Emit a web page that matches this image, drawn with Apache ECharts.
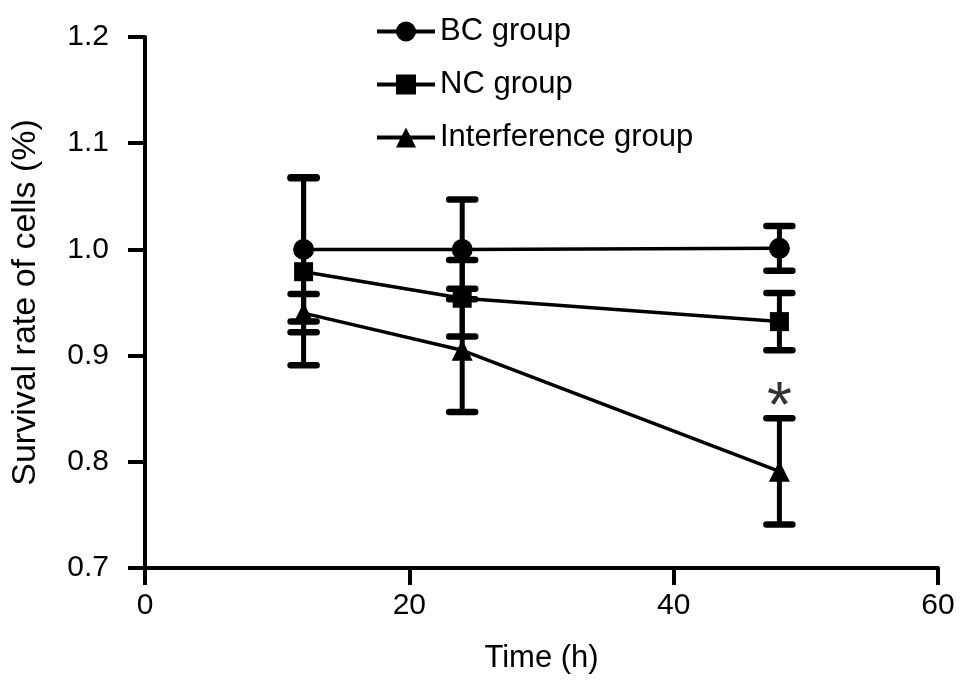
<!DOCTYPE html>
<html><head><meta charset="utf-8">
<script src="https://cdn.jsdelivr.net/npm/echarts@6/dist/echarts.min.js"></script>
<style>html,body{margin:0;padding:0;background:#fff}#c{width:969px;height:689px}</style>
</head><body><div id="c"></div>
<script>
var times = [12, 24, 48];
var bcMean = [1.000, 1.000, 1.001];
var bcErr = [0.068, 0.047, 0.021];
var ncMean = [0.979, 0.954, 0.932];
var ncErr = [0.088, 0.036, 0.027];
var intMean = [0.940, 0.905, 0.791];
var intErr = [0.018, 0.058, 0.050];
var seriesNames = ['BC group', 'NC group', 'Interference group'];
var xTicks = [0, 20, 40, 60];
var yTicks = [0.7, 0.8, 0.9, 1.0, 1.1, 1.2];
var sigPoint = [48, 0.849];

var FONT = 'Liberation Sans, Arial, sans-serif';
function pts(m){ return times.map(function(t,i){ return [t, m[i]]; }); }
function errData(m,e){ return times.map(function(t,i){ return [t, m[i]-e[i], m[i]+e[i]]; }); }
function errSeries(m,e){
  return {
    type:'custom', silent:true, z:3,
    data: errData(m,e),
    renderItem: function(params, api){
      var x = api.value(0);
      var lo = api.coord([x, api.value(1)]);
      var hi = api.coord([x, api.value(2)]);
      var hw = 13;
      var st = {stroke:'#000', lineWidth:5};
      var cs = {stroke:'#000', lineWidth:6.5, lineCap:'round'};
      return {type:'group', children:[
        {type:'line', shape:{x1:lo[0], y1:lo[1], x2:hi[0], y2:hi[1]}, style:st},
        {type:'line', shape:{x1:lo[0]-hw, y1:lo[1], x2:lo[0]+hw, y2:lo[1]}, style:cs},
        {type:'line', shape:{x1:hi[0]-hw, y1:hi[1], x2:hi[0]+hw, y2:hi[1]}, style:cs}
      ]};
    }
  };
}
function lineSeries(name, m, sym, size){
  return {
    name:name, type:'line', data:pts(m), symbol:sym, symbolSize:size, z:4,
    lineStyle:{color:'#000', width:3.5}, itemStyle:{color:'#000'}
  };
}
var chart = echarts.init(document.getElementById('c'));
chart.setOption({
  animation:false,
  backgroundColor:'#fff',
  textStyle:{fontFamily:FONT},
  grid:{left:145, right:31, top:37, bottom:121},
  legend:{
    orient:'vertical', left:370, top:11, itemWidth:58, itemHeight:25, itemGap:22,
    lineStyle:{width:4},
    textStyle:{fontSize:31, color:'#000', fontFamily:FONT, padding:[0,0,0,0]},
    data:seriesNames
  },
  xAxis:{
    type:'value', min:0, max:60, interval:20,
    name:'Time (h)', nameLocation:'middle', nameGap:75,
    nameTextStyle:{fontSize:31, color:'#000', fontFamily:FONT},
    axisLine:{lineStyle:{color:'#000', width:4}},
    axisTick:{show:true, length:17, lineStyle:{color:'#000', width:4}},
    axisLabel:{fontSize:30, color:'#000', margin:23, fontFamily:FONT,
      formatter:function(v){ return xTicks.indexOf(v)>=0 ? String(v) : ''; }},
    splitLine:{show:false}
  },
  yAxis:{
    type:'value', min:0.7, max:1.2, interval:0.1,
    name:'Survival rate of cells (%)', nameLocation:'middle', nameGap:102,
    nameTextStyle:{fontSize:34, color:'#000', fontFamily:FONT},
    axisLine:{show:true, lineStyle:{color:'#000', width:4}},
    axisTick:{show:true, length:17, lineStyle:{color:'#000', width:4}},
    axisLabel:{fontSize:30, color:'#000', margin:36, fontFamily:FONT,
      formatter:function(v){ var r = Math.round(v*10)/10; return yTicks.indexOf(r)>=0 ? r.toFixed(1) : ''; }},
    splitLine:{show:false}
  },
  series:[
    lineSeries(seriesNames[0], bcMean, 'circle', 21),
    lineSeries(seriesNames[1], ncMean, 'rect', 19),
    lineSeries(seriesNames[2], intMean, 'triangle', 21),
    errSeries(bcMean, bcErr),
    errSeries(ncMean, ncErr),
    errSeries(intMean, intErr),
    {type:'scatter', data:[sigPoint], symbol:'circle', symbolSize:1, silent:true, z:5,
      itemStyle:{color:'rgba(0,0,0,0)'},
      label:{show:true, formatter:'*', position:'inside', fontSize:64, color:'#000', fontFamily:FONT}}
  ]
});
</script></body></html>
